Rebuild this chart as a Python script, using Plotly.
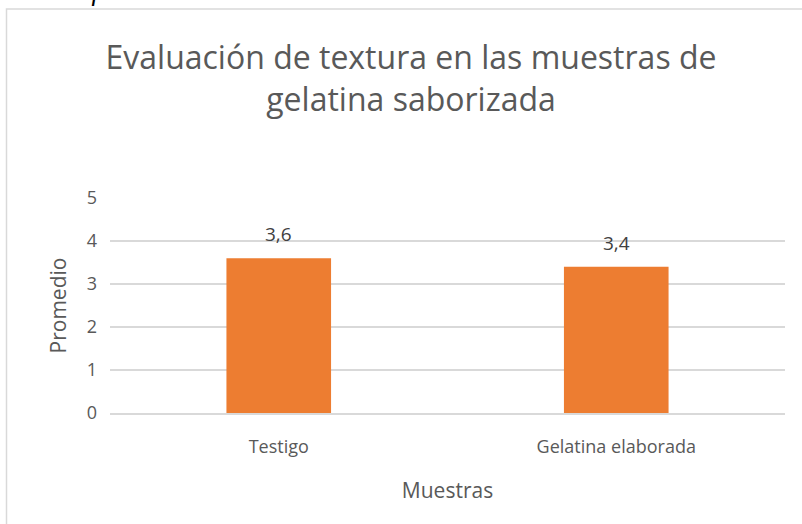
import plotly.graph_objects as go

# Data
muestras = ["Testigo", "Gelatina elaborada"]
promedio = [3.6, 3.4]
y_ticks = [0, 1, 2, 3, 4, 5]

title_text = "Evaluación de textura en las muestras de<br>gelatina saborizada"
caption_text = "Gráfica 4. Evaluación de textura  Gelatinas saborizadas  Mora"

# Plot area in pixels (from the reference)
W, H = 802, 524
left, right, top, bottom = 110, 785, 198, 413
pw, ph = right - left, bottom - top


def px_x(x):
    return (x - left) / pw


def px_y(y):
    return (bottom - y) / ph


grey = "#595959"

fig = go.Figure(
    go.Bar(
        x=muestras,
        y=promedio,
        marker=dict(color="#ED7D31", line=dict(width=0)),
        width=0.31,
        hoverinfo="x+y",
    )
)

# value labels above the bars
for m, v in zip(muestras, promedio):
    fig.add_annotation(
        x=m,
        y=v,
        text=f"{v:.1f}".replace(".", ","),
        showarrow=False,
        yanchor="bottom",
        yshift=9,
        font=dict(size=19, color="#404040", family="Open Sans"),
    )

fig.update_layout(
    width=W,
    height=H,
    margin=dict(l=left, r=W - right, t=top, b=H - bottom),
    paper_bgcolor="white",
    plot_bgcolor="white",
    separators=",.",
    showlegend=False,
    font=dict(family="Open Sans", color=grey),
    title=dict(
        text=title_text,
        x=411 / W,
        xanchor="center",
        y=1 - 69 / H,
        yanchor="middle",
        font=dict(size=32, color=grey, family="Open Sans"),
    ),
)

fig.update_xaxes(
    title=dict(text="Muestras", font=dict(size=21, color=grey), standoff=26),
    tickfont=dict(size=18, color=grey),
    showgrid=False,
    showline=True,
    linecolor="#d9d9d9",
    linewidth=1.5,
    ticks="",
    ticklabelstandoff=17,
)

fig.update_yaxes(
    title=dict(text="Promedio", font=dict(size=21, color=grey), standoff=14),
    range=[0, 5],
    tickvals=y_ticks,
    tickfont=dict(size=18, color=grey),
    showgrid=True,
    gridcolor="#d9d9d9",
    gridwidth=1.5,
    zeroline=False,
    showline=False,
    ticks="",
    ticklabelstandoff=12,
)

# chart border, as in the reference (goes off the right and bottom edges)
fig.add_shape(
    type="rect",
    xref="paper",
    yref="paper",
    x0=px_x(6.5),
    x1=px_x(W + 20),
    y0=px_y(H + 20),
    y1=px_y(9),
    line=dict(color="#d9d9d9", width=1.5),
    fillcolor="rgba(0,0,0,0)",
    layer="below",
)

# caption above the chart, mostly cut off at the top of the picture
fig.add_annotation(
    text=caption_text,
    xref="paper",
    yref="paper",
    x=px_x(390),
    y=px_y(-8.6),
    xanchor="center",
    yanchor="middle",
    showarrow=False,
    font=dict(family="Liberation Serif", size=27, color="#000000", style="italic"),
)

# the page has a default body margin; remove it so the figure sits at the corner
fig.write_html(
    "out.html",
    config={"displayModeBar": False},
    post_script="document.body.style.margin='0';",
)
